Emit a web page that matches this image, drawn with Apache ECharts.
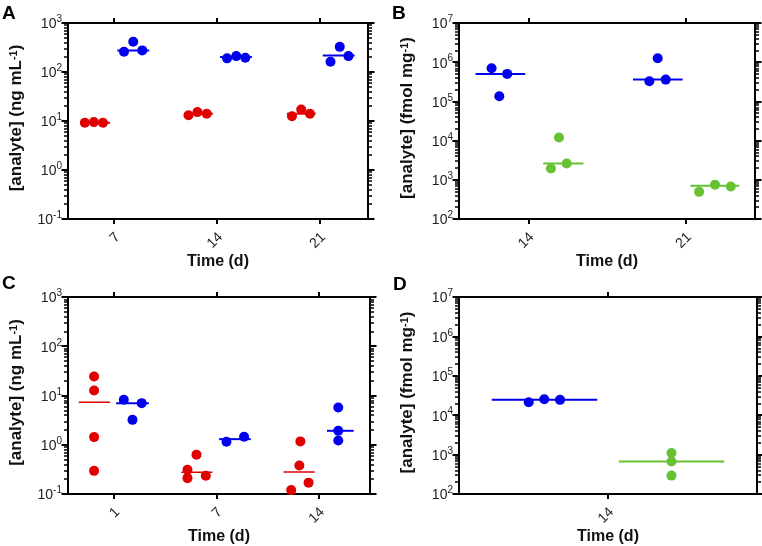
<!DOCTYPE html>
<html><head><meta charset="utf-8">
<script src="https://cdn.jsdelivr.net/npm/echarts@6/dist/echarts.min.js"></script>
<style>html,body{margin:0;padding:0;background:#fff}#c{width:762px;height:546px}</style>
</head><body><div id="c"></div>
<script>
// ---------- DATA ----------
const catsA = ['7', '14', '21'];
const redA = [[9.2, 9.5, 9.2], [13.1, 15.2, 14.1], [12.5, 17.1, 14.1]];
const blueA = [[260, 415, 276], [190, 211, 195], [162, 326, 211]];
const redMedA = [9.2, 14.1, 14.1];
const blueMedA = [276, 202, 218];

const catsB = ['14', '21'];
const blueB = [[703000, 135000, 503000], [327000, 1260000, 360000]];
const greenB = [[1950, 12000, 2610], [493, 745, 675]];
const blueMedB = [503000, 360000];
const greenMedB = [2610, 703];

const catsC = ['1', '7', '14'];
const redC = [[24.3, 12.6, 1.43, 0.295], [0.31, 0.21, 0.63, 0.235], [0.12, 0.38, 1.17, 0.17]];
const blueC = [[8.2, 3.2, 7.0], [1.15, 1.45], [5.7, 1.92, 1.22]];
const redMedC = [7.3, 0.275, 0.28];
const blueMedC = [7.0, 1.3, 1.92];

const catsD = ['14'];
const blueD = [[21400, 25500, 24500]];
const greenD = [[1100, 665, 293]];
const blueMedD = [24500];
const greenMedD = [665];

const yTitleNg = '[analyte] (ng mL{sup|-1})';
const yTitleFmol = '[analyte] (fmol mg{sup|-1})';
const xTitle = 'Time (d)';
const panelLetters = ['A', 'B', 'C', 'D'];

// ---------- LAYOUT / STYLE ----------
const RED = '#e00000', BLUE = '#0000ee', GREEN = '#66c232';
const FONT = 'Liberation Sans, Arial';
const panels = [
  { grid: {left: 68, top: 23, width: 300, height: 196}, xr: [0.55, 3.47], yr: [0.1, 1000], cats: catsA, yTitle: yTitleNg,
    groups: [
      {vals: redA, med: redMedA, color: RED, off: [[-0.286, -0.198, -0.11], [-0.277, -0.19, -0.1], [-0.27, -0.18, -0.095]], line: [-0.32, -0.04]},
      {vals: blueA, med: blueMedA, color: BLUE, off: [[0.095, 0.185, 0.273], [0.098, 0.188, 0.276], [0.105, 0.195, 0.28]], line: [0.03, 0.34]}
    ]},
  { grid: {left: 459, top: 23, width: 296, height: 196}, xr: [0.56, 2.44], yr: [100, 1e7], cats: catsB, yTitle: yTitleFmol,
    groups: [
      {vals: blueB, med: blueMedB, color: BLUE, off: [[-0.233, -0.184, -0.134], [-0.231, -0.178, -0.127]], line: [-0.335, -0.02]},
      {vals: greenB, med: greenMedB, color: GREEN, off: [[0.144, 0.195, 0.244], [0.085, 0.186, 0.286]], lines: [[0.095, 0.35], [0.03, 0.34]]}
    ]},
  { grid: {left: 68, top: 297, width: 302, height: 197}, xr: [0.55, 3.5], yr: [0.1, 1000], cats: catsC, yTitle: yTitleNg,
    groups: [
      {vals: redC, med: redMedC, color: RED, off: [[-0.195, -0.195, -0.195, -0.195], [-0.283, -0.283, -0.195, -0.104], [-0.27, -0.19, -0.18, -0.1]], line: [-0.345, -0.04], lw: 1.5},
      {vals: blueC, med: blueMedC, color: BLUE, off: [[0.095, 0.18, 0.27], [0.098, 0.27], [0.19, 0.19, 0.19]], lines: [[0.02, 0.34], [0.026, 0.335], [0.08, 0.34]]}
    ]},
  { grid: {left: 459, top: 297, width: 298, height: 197}, xr: [0.5, 1.5], yr: [100, 1e7], cats: catsD, yTitle: yTitleFmol,
    groups: [
      {vals: blueD, med: blueMedD, color: BLUE, off: [[-0.266, -0.214, -0.161]], line: [-0.39, -0.036]},
      {vals: greenD, med: greenMedD, color: GREEN, off: [[0.213, 0.213, 0.213]], line: [0.036, 0.39]}
    ]}
];

const supRich = {
  b: {fontSize: 14, color: '#222', fontFamily: FONT, lineHeight: 17, verticalAlign: 'bottom'},
  sup: {fontSize: 10, color: '#222', fontFamily: FONT, verticalAlign: 'top', lineHeight: 17}
};

const option = {animation: false, backgroundColor: '#fff', grid: [], xAxis: [], yAxis: [], series: [], graphic: []};

function decadesOf(r) {
  const out = [];
  for (let e = Math.round(Math.log10(r[0])); e <= Math.round(Math.log10(r[1])); e++) out.push(Math.pow(10, e));
  return out;
}
function minorsOf(r) {
  const out = [];
  for (let e = Math.round(Math.log10(r[0])); e < Math.round(Math.log10(r[1])); e++)
    for (let k = 2; k <= 9; k++) out.push(k * Math.pow(10, e));
  return out;
}
const blackLine = {color: '#000', width: 2};
const minorLine = {color: '#000', width: 1.5};

panels.forEach((p) => {
  const gMain = option.grid.length;
  option.grid.push(Object.assign({}, p.grid));
  const gMinor = option.grid.length;
  option.grid.push(Object.assign({}, p.grid));
  const catIdx = p.cats.map((c, i) => i + 1);
  const labShift = 3.5 * (p.xr[1] - p.xr[0]) / p.grid.width;
  const labIdx = catIdx.map(v => v + labShift);
  const dec = decadesOf(p.yr), mins = minorsOf(p.yr);

  const xb = option.xAxis.length;
  option.xAxis.push({
    gridIndex: gMain, type: 'value', min: p.xr[0], max: p.xr[1], position: 'bottom',
    axisLine: {show: true, onZero: false, lineStyle: blackLine}, splitLine: {show: false},
    axisTick: {show: true, customValues: catIdx, length: 5, lineStyle: blackLine},
    axisLabel: {customValues: labIdx, formatter: v => p.cats[Math.round(v) - 1] || '', rotate: 45, fontSize: 14,
      color: '#222', margin: 16, fontFamily: FONT},
    name: xTitle, nameLocation: 'middle', nameGap: 35,
    nameTextStyle: {fontWeight: 'bold', fontSize: 16, color: '#111', fontFamily: FONT}
  });
  option.xAxis.push({
    gridIndex: gMain, type: 'value', min: p.xr[0], max: p.xr[1], position: 'top',
    axisLine: {show: true, onZero: false, lineStyle: blackLine}, splitLine: {show: false},
    axisTick: {show: true, customValues: catIdx, length: 5, lineStyle: blackLine},
    axisLabel: {show: false}
  });
  option.xAxis.push({
    gridIndex: gMinor, type: 'value', min: p.xr[0], max: p.xr[1], show: false
  });

  const yb = option.yAxis.length;
  option.yAxis.push({
    gridIndex: gMain, type: 'log', logBase: 10, min: p.yr[0], max: p.yr[1], position: 'left',
    axisLine: {show: true, onZero: false, lineStyle: blackLine}, splitLine: {show: false},
    axisTick: {show: true, customValues: dec, length: 6.5, lineStyle: blackLine},
    axisLabel: {customValues: dec, margin: 6, formatter: v => '{b|10}{sup|' + Math.round(Math.log10(v)) + '}', rich: supRich},
    name: p.yTitle, nameLocation: 'middle', nameGap: 43, nameRotate: 90,
    nameTextStyle: {fontWeight: 'bold', fontSize: 17, color: '#111', fontFamily: FONT, padding: [0, 0, 0, 6],
      rich: {sup: {fontSize: 11, fontWeight: 'bold', color: '#111', verticalAlign: 'top', fontFamily: FONT}}}
  });
  option.yAxis.push({
    gridIndex: gMain, type: 'log', logBase: 10, min: p.yr[0], max: p.yr[1], position: 'right',
    axisLine: {show: true, onZero: false, lineStyle: blackLine}, splitLine: {show: false},
    axisTick: {show: true, customValues: dec, length: 6.5, lineStyle: blackLine},
    axisLabel: {show: false}
  });
  // overlay grid: minor ticks. Left-side minor ticks come from a right-positioned axis moved onto the left edge
  option.yAxis.push({
    gridIndex: gMinor, type: 'log', logBase: 10, min: p.yr[0], max: p.yr[1], position: 'right', offset: -p.grid.width,
    axisLine: {show: false, onZero: false}, splitLine: {show: false},
    axisTick: {show: true, inside: true, customValues: mins, length: 4, lineStyle: minorLine},
    axisLabel: {show: false}
  });
  option.yAxis.push({
    gridIndex: gMinor, type: 'log', logBase: 10, min: p.yr[0], max: p.yr[1], position: 'right',
    axisLine: {show: false, onZero: false}, splitLine: {show: false},
    axisTick: {show: true, customValues: mins, length: 4, lineStyle: minorLine},
    axisLabel: {show: false}
  });

  p.groups.forEach(g => {
    g.vals.forEach((arr, i) => {
      const seg = g.lines ? g.lines[i] : g.line;
      option.series.push({
        type: 'line', xAxisIndex: xb, yAxisIndex: yb, symbol: 'none', silent: true, z: 2,
        lineStyle: {color: g.color, width: g.lw || 2},
        data: [[i + 1 + seg[0], g.med[i]], [i + 1 + seg[1], g.med[i]]]
      });
      option.series.push({
        type: 'scatter', xAxisIndex: xb, yAxisIndex: yb, symbol: 'circle', symbolSize: 10, z: 3,
        itemStyle: {color: g.color, opacity: 1},
        data: arr.map((v, j) => [i + 1 + g.off[i][j], v])
      });
    });
  });
});

const letterPos = [[2, 4], [392, 4], [2, 274], [393, 275]];
panelLetters.forEach((L, i) => {
  option.graphic.push({type: 'text', left: letterPos[i][0], top: letterPos[i][1],
    style: {text: L, font: 'bold 19px "Liberation Sans", Arial', fill: '#000'}});
});

const chart = echarts.init(document.getElementById('c'), null, {renderer: 'canvas'});
chart.setOption(option);
</script></body></html>
